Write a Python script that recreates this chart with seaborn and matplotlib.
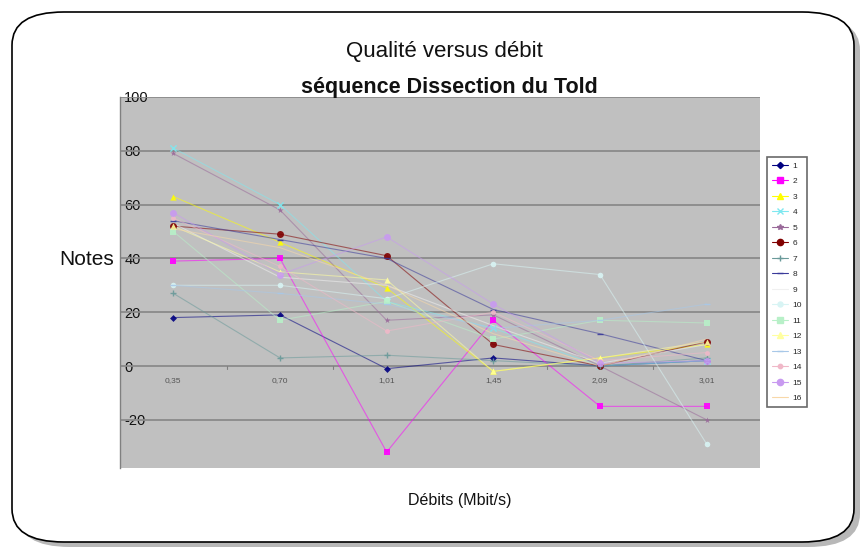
import numpy as np
import pandas as pd
import matplotlib
matplotlib.use("Agg")
import matplotlib.pyplot as plt
from matplotlib.patches import FancyBboxPatch
from matplotlib.lines import Line2D
import seaborn as sns

# ---- data ----
categories = ["0,35", "0,70", "1,01", "1,45", "2,09", "3,01"]
series_names = [str(i) for i in range(1, 17)]
s1 = [18, 19, -1, 3, 0, 2]
s2 = [39, 40, -32, 17, -15, -15]
s3 = [63, 46, 29, -2, 3, 8]
s4 = [81, 60, 24, 14, 0, 2]
s5 = [79, 58, 17, 19, 0, -20]
s6 = [52, 49, 41, 8, 0, 9]
s7 = [27, 3, 4, 2, 0, 3]
s8 = [54, 47, 40, 21, 12, 2]
s9 = [53, 33, 30, 15, 1, 8]
s10 = [30, 30, 25, 38, 34, -29]
s11 = [50, 17, 24, 10, 17, 16]
s12 = [52, 35, 32, -2, 3, 9]
s13 = [30, 27, 23, 14, 17, 23]
s14 = [55, 37, 13, 20, 2, 5]
s15 = [57, 34, 48, 23, 1, 2]
s16 = [51, 44, 30, 12, 0, 10]
values = [s1, s2, s3, s4, s5, s6, s7, s8, s9, s10, s11, s12, s13, s14, s15, s16]
yticks = [-20, 0, 20, 40, 60, 80, 100]

colors = ["#000080", "#FF00FF", "#FFFF00", "#7FE8F0", "#9A6A9A", "#800000",
          "#6A9A9A", "#3A3A9A", "#F0F0F0", "#D8F4F4", "#B8F0C8", "#FFFFA0",
          "#A8C8E8", "#F0B8C8", "#C89AF0", "#F8D8A8"]
markers = ["D", "s", "^", "x", "*", "o", "+", "_", "None", "o", "s", "^",
           "_", "o", "o", "None"]
msizes = [3.5, 5, 4.5, 4.5, 4.5, 5, 4.5, 4.5, 4, 4, 5, 4.5, 4.5, 3.5, 5, 4]

rows = []
for name, vals in zip(series_names, values):
    for i, v in enumerate(vals):
        rows.append({"serie": name, "pos": i, "note": v})
df = pd.DataFrame(rows)

sns.set_theme(style="white")
plt.rcParams["font.family"] = ["Liberation Sans", "DejaVu Sans"]

fig = plt.figure(figsize=(8.65, 5.53), dpi=100)
fig.patch.set_facecolor("white")

# rounded frame with shadow
shadow = FancyBboxPatch((18 / 865, 1 - 547 / 553), 842 / 865, 530 / 553,
                        boxstyle="round,pad=0,rounding_size=0.06",
                        transform=fig.transFigure, facecolor="#b8b8b8",
                        edgecolor="none", zorder=0)
frame = FancyBboxPatch((12 / 865, 1 - 542 / 553), 842 / 865, 530 / 553,
                       boxstyle="round,pad=0,rounding_size=0.06",
                       transform=fig.transFigure, facecolor="white",
                       edgecolor="black", linewidth=1.2, zorder=0.5)
fig.patches.extend([shadow, frame])

ymin, ymax = -38, 100
top_px, zero_px = 97, 366
ppu = (zero_px - top_px) / 100
bottom_px = zero_px - ymin * ppu
ax = fig.add_axes([120 / 865, 1 - bottom_px / 553, 640 / 865, (bottom_px - top_px) / 553])
ax.set_facecolor("#C0C0C0")
ax.set_zorder(1)

for yv in yticks:
    ax.axhline(yv, color="#8a8a8a", linewidth=1.3, zorder=1)

palette = dict(zip(series_names, colors))
sns.lineplot(data=df, x="pos", y="note", hue="serie", palette=palette,
             linewidth=0.8, alpha=0.55, legend=False, ax=ax, zorder=2)
for name, m, ms in zip(series_names, markers, msizes):
    sub = df[df["serie"] == name]
    if m == "None":
        continue
    sns.scatterplot(data=sub, x="pos", y="note", color=palette[name], marker=m,
                    s=ms ** 2, linewidth=1 if m in ("x", "+", "_") else 0,
                    edgecolor=palette[name], alpha=0.9, legend=False, ax=ax, zorder=3)

ax.set_xlim(-0.5, 5.5)
ax.set_ylim(ymin, ymax)
ax.set_xlabel("")
ax.set_ylabel("")
for sp in ["top", "right", "bottom"]:
    ax.spines[sp].set_visible(False)
ax.spines["left"].set_color("#808080")
ax.spines["left"].set_linewidth(1)

# y tick labels drawn inside the plot area
ax.set_yticks(yticks)
ax.set_yticklabels([str(v) for v in yticks], fontsize=10.5, color="#111111")
ax.tick_params(axis="y", length=0, pad=-3)
for lab in ax.get_yticklabels():
    lab.set_horizontalalignment("left")

# x labels at the zero line
ax.set_xticks([])
for i, c in enumerate(categories):
    ax.text(i, -4.0, c, ha="center", va="top", fontsize=6, color="#555555", zorder=4)
for i in range(1, 6):
    ax.plot([i - 0.5, i - 0.5], [0, -1.2], color="#808080", linewidth=0.8, zorder=2)

fig.text(444 / 865, 1 - 52 / 553, "Qualité versus débit", ha="center", va="center",
         fontsize=16, color="#111111")
fig.text(449 / 865, 1 - 88 / 553, "séquence Dissection du Told", ha="center", va="center",
         fontsize=15.5, fontweight="bold", color="#111111")
fig.text(87 / 865, 1 - 259 / 553, "Notes", ha="center", va="center", fontsize=15, color="#111111")
fig.text(460 / 865, 1 - 500 / 553, "Débits (Mbit/s)", ha="center", va="center", fontsize=11.5,
         color="#111111")

handles = []
for name, c, m, ms in zip(series_names, colors, markers, msizes):
    handles.append(Line2D([0], [0], color=c, marker=None if m == "None" else m,
                          markersize=ms * 0.9, linewidth=0.8, markeredgecolor=c))
leg = fig.legend(handles=handles, labels=series_names, loc="upper left",
                 bbox_to_anchor=(767 / 865, 1 - 157 / 553), fontsize=6,
                 frameon=True, fancybox=False, handlelength=1.9, labelspacing=0.92,
                 borderpad=0.6, handletextpad=0.6, borderaxespad=0)
leg.get_frame().set_edgecolor("#444444")
leg.get_frame().set_linewidth(1.2)
leg.get_frame().set_facecolor("white")

fig.savefig("out.png", dpi=100, facecolor="white")
